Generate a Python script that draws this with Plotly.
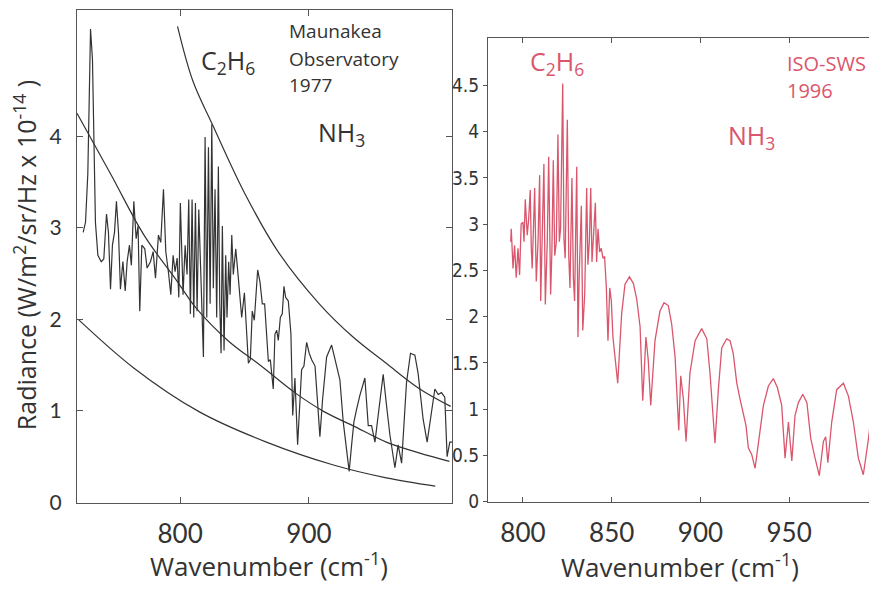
import plotly.graph_objects as go

# ---------------- data ----------------
# Left panel: Maunakea Observatory 1977 spectrum
maunakea_wn = [724.8, 726.6, 728.4, 730.5, 732.0, 733.1, 734.3, 736.2, 738.8, 740.8,
               742.9, 744.4, 746.0, 747.5, 749.1, 750.6, 752.2, 753.7, 755.6, 757.4,
               758.9, 760.7, 762.2, 764.1, 765.9, 767.4, 768.7, 770.3, 772.6, 774.4,
               777.0, 779.1, 780.9, 783.2, 785.0, 787.1, 788.9, 790.9, 792.8, 794.6,
               796.1, 797.7, 799.0, 800.2, 802.3, 803.9, 805.4, 806.7, 808.0, 809.3,
               810.6, 811.9, 813.2, 814.5, 818.1, 819.4, 820.7, 822.0, 823.3, 824.6,
               825.8, 827.1, 828.4, 829.7, 830.8, 831.8, 832.8, 834.1, 835.4, 836.4,
               837.7, 838.8, 840.1, 841.3, 843.2, 845.2, 847.8, 849.9, 851.7, 853.0,
               854.5, 856.0, 857.6, 860.2, 862.0, 863.8, 865.6, 867.2, 868.5, 870.0,
               872.3, 873.6, 875.0, 876.2, 877.8, 879.3, 880.6, 881.9, 884.0, 886.0,
               887.4, 889.1, 891.2, 894.3, 896.1, 898.2, 900.2, 902.1, 904.7, 906.5,
               908.5, 910.6, 913.7, 917.6, 920.2, 924.0, 926.6, 929.2, 931.2, 933.1,
               934.9, 937.0, 939.5, 943.4, 946.0, 948.6, 951.2, 953.7, 957.6, 960.2,
               962.8, 966.7, 969.2, 971.9, 975.7, 978.8, 982.2, 984.7, 988.6, 991.7,
               995.1, 997.7, 1000.3, 1002.8, 1005.4, 1007.2, 1009.3, 1011.0]
maunakea_rad = [2.95, 3.06, 3.59, 5.17, 4.84, 3.77, 3.06, 2.70, 2.63, 2.66,
                3.15, 2.95, 2.33, 2.81, 2.95, 3.29, 2.95, 2.33, 2.63, 2.31,
                2.63, 2.81, 2.59, 3.29, 2.88, 3.02, 2.09, 2.81, 2.77, 2.56,
                2.63, 2.74, 2.45, 2.92, 2.84, 3.42, 2.74, 2.52, 2.27, 2.70,
                2.52, 2.67, 2.24, 3.27, 2.27, 2.81, 2.49, 3.31, 2.06, 3.31,
                2.02, 3.27, 2.09, 3.20, 1.59, 3.99, 2.02, 3.88, 2.17, 4.13,
                2.34, 3.42, 2.02, 3.67, 2.17, 1.63, 3.02, 1.66, 2.70, 2.02,
                2.63, 2.27, 2.92, 2.49, 2.77, 2.45, 2.02, 2.29, 1.81, 1.52,
                1.56, 2.09, 1.99, 2.54, 2.41, 2.17, 2.17, 1.77, 1.54, 1.56,
                1.24, 1.84, 1.88, 1.77, 2.02, 2.06, 2.36, 2.24, 2.20, 1.84,
                0.95, 1.36, 0.63, 1.45, 1.49, 1.75, 1.63, 1.56, 1.49, 1.13,
                0.72, 1.13, 1.59, 1.72, 1.56, 1.34, 0.88, 0.54, 0.34, 0.63,
                0.88, 1.02, 1.17, 1.36, 0.84, 0.84, 0.66, 0.95, 1.40, 1.06,
                0.74, 0.38, 0.63, 0.43, 1.31, 1.63, 1.61, 1.41, 0.91, 0.66,
                0.99, 1.24, 1.18, 1.20, 1.15, 0.50, 0.66, 0.66]

# Left panel: three reference (blackbody) curves
bb_upper_wn = [798, 810, 825, 850, 876, 908, 934, 960, 986, 1010]
bb_upper_rad = [5.20, 4.60, 4.13, 3.38, 2.74, 2.17, 1.81, 1.52, 1.24, 1.05]
bb_middle_wn = [720, 746, 772, 798, 812, 837, 863, 889, 912, 934, 960, 986, 1009]
bb_middle_rad = [4.25, 3.59, 2.92, 2.41, 2.13, 1.77, 1.49, 1.20, 0.99, 0.84, 0.66, 0.54, 0.45]
bb_lower_wn = [721, 764, 815, 867, 919, 960, 998]
bb_lower_rad = [2.00, 1.47, 0.99, 0.66, 0.41, 0.27, 0.18]

# Right panel: ISO-SWS 1996 spectrum
iso_wn = [793.1, 793.4, 794.4, 795.3, 796.2, 797.2, 798.1, 799.0, 800.0, 800.6,
          801.3, 802.4, 803.2, 804.1, 804.7, 805.2, 806.6, 807.5, 808.5, 809.4,
          810.0, 810.7, 811.8, 812.6, 813.7, 814.5, 815.6, 816.3, 817.1, 817.9,
          818.8, 819.7, 820.5, 821.2, 822.4, 823.1, 823.8, 825.0, 825.8, 826.5,
          827.6, 828.4, 829.1, 830.3, 831.0, 831.7, 832.9, 833.7, 834.8, 835.9,
          836.6, 837.4, 838.2, 838.9, 839.6, 840.8, 841.5, 842.3, 843.2, 844.1,
          845.1, 846.0, 847.0, 847.9, 848.9, 849.8, 850.7, 853.4, 855.6, 857.5,
          860.0, 862.2, 864.1, 866.0, 867.5, 869.3, 870.6, 872.0, 874.4, 877.2,
          879.5, 881.9, 883.8, 885.7, 887.8, 888.9, 890.4, 891.9, 894.1, 897.0,
          900.7, 903.6, 905.4, 908.2, 910.1, 912.0, 914.8, 916.7, 918.5, 920.5,
          922.3, 924.2, 925.7, 927.0, 928.9, 930.8, 933.6, 935.5, 938.3, 941.1,
          943.4, 945.8, 947.7, 949.6, 951.5, 953.3, 955.2, 957.7, 960.0, 962.2,
          964.6, 967.0, 969.3, 970.6, 971.8, 974.0, 976.8, 980.6, 983.4, 986.2,
          989.0, 991.8, 994.7, 997.0]
iso_rad = [2.81, 2.95, 2.52, 2.77, 2.42, 2.74, 2.45, 3.00, 3.02, 2.81,
           3.27, 2.88, 3.05, 3.37, 2.74, 2.52, 3.39, 2.38, 2.81, 3.53,
           2.17, 2.81, 3.65, 2.13, 2.81, 3.73, 2.24, 2.70, 3.69, 2.66,
           2.81, 3.97, 2.81, 2.95, 4.52, 2.84, 2.63, 4.13, 2.66, 2.31,
           3.50, 2.42, 2.17, 3.62, 1.78, 2.45, 3.20, 1.85, 2.24, 3.39,
           2.56, 2.81, 3.39, 2.59, 2.88, 3.23, 2.59, 2.95, 2.70, 2.74,
           2.63, 2.65, 2.31, 1.74, 2.31, 2.17, 1.78, 1.28, 2.03, 2.35,
           2.43, 2.36, 2.19, 1.89, 1.09, 1.78, 1.53, 1.04, 1.74, 2.06,
           2.15, 2.12, 1.92, 1.57, 0.77, 1.36, 1.11, 0.65, 1.39, 1.74,
           1.87, 1.76, 1.39, 0.63, 1.21, 1.66, 1.76, 1.74, 1.60, 1.28,
           1.11, 0.93, 0.82, 0.58, 0.51, 0.36, 0.79, 1.04, 1.25, 1.33,
           1.23, 1.04, 0.47, 0.86, 0.44, 0.93, 1.07, 1.16, 1.07, 0.68,
           0.47, 0.28, 0.65, 0.70, 0.42, 0.86, 1.21, 1.28, 1.14, 0.86,
           0.47, 0.29, 0.68, 1.05]

left_xticks = [800, 900]
left_yticks = [0, 1, 2, 3, 4]
right_xticks = [800, 850, 900, 950]
right_yticks = [0, 0.5, 1, 1.5, 2, 2.5, 3, 3.5, 4, 4.5]
right_yticklabels = ["0", "0.5", "1", "1.5", "2", "2.5", "3", "3.5", "4", "4.5"]

# ---------------- styling ----------------
W, H = 869, 595
INK = "#333333"
FRAME = "#555555"
PINK = "#d9566d"
SANS = "Lato, 'Open Sans', sans-serif"
OPEN = "'Open Sans', Lato, sans-serif"
NARROW = "'Liberation Sans Narrow', 'DejaVu Sans Condensed', 'Arial Narrow', sans-serif"


def px(x):
    return x / W


def py(y):
    return (H - y) / H


fig = go.Figure()

fig.add_trace(go.Scatter(x=maunakea_wn, y=maunakea_rad, mode="lines",
                         line=dict(color=INK, width=1.2), xaxis="x", yaxis="y",
                         showlegend=False, hoverinfo="skip"))
for wn, rad in [(bb_upper_wn, bb_upper_rad), (bb_middle_wn, bb_middle_rad),
                (bb_lower_wn, bb_lower_rad)]:
    fig.add_trace(go.Scatter(x=wn, y=rad, mode="lines",
                             line=dict(color=INK, width=1.2, shape="spline", smoothing=1.0),
                             xaxis="x", yaxis="y", showlegend=False, hoverinfo="skip"))

fig.add_trace(go.Scatter(x=iso_wn, y=iso_rad, mode="lines",
                         line=dict(color=PINK, width=1.3), xaxis="x2", yaxis="y2",
                         showlegend=False, hoverinfo="skip"))

axis_common = dict(showgrid=False, zeroline=False, showline=True,
                   linecolor=FRAME, linewidth=1)

fig.update_layout(
    width=W, height=H,
    margin=dict(l=0, r=0, t=0, b=0),
    paper_bgcolor="white", plot_bgcolor="white",
    xaxis=dict(axis_common, domain=[px(77), px(452)], range=[720, 1011],
               tickvals=left_xticks, ticks="inside", ticklen=6, tickcolor=FRAME,
               mirror="ticks", anchor="y",
               tickfont=dict(family=SANS, size=26, color=INK), ticklabelstandoff=8),
    yaxis=dict(axis_common, domain=[py(512), py(10)], range=[0, 5.38],
               tickvals=left_yticks, ticks="inside", ticklen=6, tickcolor=FRAME,
               mirror="ticks", anchor="x",
               tickfont=dict(family=SANS, size=21, color=INK), ticklabelstandoff=10),
    xaxis2=dict(axis_common, domain=[px(488), 1.0], range=[780.3, 995],
                tickvals=right_xticks, ticks="inside", ticklen=5, tickcolor=FRAME,
                mirror="ticks", anchor="y2",
                tickfont=dict(family=SANS, size=26, color=INK), ticklabelstandoff=8),
    yaxis2=dict(axis_common, domain=[py(511), py(39)], range=[0, 5.01],
                tickvals=right_yticks, ticktext=right_yticklabels,
                ticks="outside", ticklen=4, tickcolor=FRAME, anchor="x2",
                tickfont=dict(family=NARROW, size=19, color=INK), ticklabelstandoff=0),
)

annots = [
    dict(x=px(228), y=py(63), text="C<sub>2</sub>H<sub>6</sub>", color=INK, size=25),
    dict(x=px(341), y=py(136), text="NH<sub>3</sub>", color=INK, size=25),
    dict(x=px(287), y=py(32), text="Maunakea", color=INK, size=19, xanchor="left"),
    dict(x=px(287), y=py(60), text="Observatory", color=INK, size=19, xanchor="left"),
    dict(x=px(287), y=py(87), text="1977", color=INK, size=19, xanchor="left"),
    dict(x=px(557), y=py(64), text="C<sub>2</sub>H<sub>6</sub>", color=PINK, size=25),
    dict(x=px(751), y=py(139), text="NH<sub>3</sub>", color=PINK, size=25),
    dict(x=px(785), y=py(65), text="ISO-SWS", color=PINK, size=20, xanchor="left"),
    dict(x=px(785), y=py(92), text="1996", color=PINK, size=20, xanchor="left"),
    dict(x=px(269), y=py(576), text="Wavenumber (cm<sup>-1</sup>)", color=INK, size=26),
    dict(x=px(680), y=py(577), text="Wavenumber (cm<sup>-1</sup>)", color=INK, size=26),
    dict(x=px(25), y=py(260), text="Radiance (W/m<sup>2</sup>/sr/Hz x 10<sup>-14</sup> )",
         color=INK, size=25, textangle=-90),
]
for a in annots:
    fig.add_annotation(
        x=a["x"], y=a["y"], xref="paper", yref="paper", text=a["text"],
        showarrow=False, xanchor=a.get("xanchor", "center"),
        yanchor="middle", align="left",
        textangle=a.get("textangle", 0),
        font=dict(family=OPEN, size=a["size"], color=a["color"]))

fig.write_html("out.html")
